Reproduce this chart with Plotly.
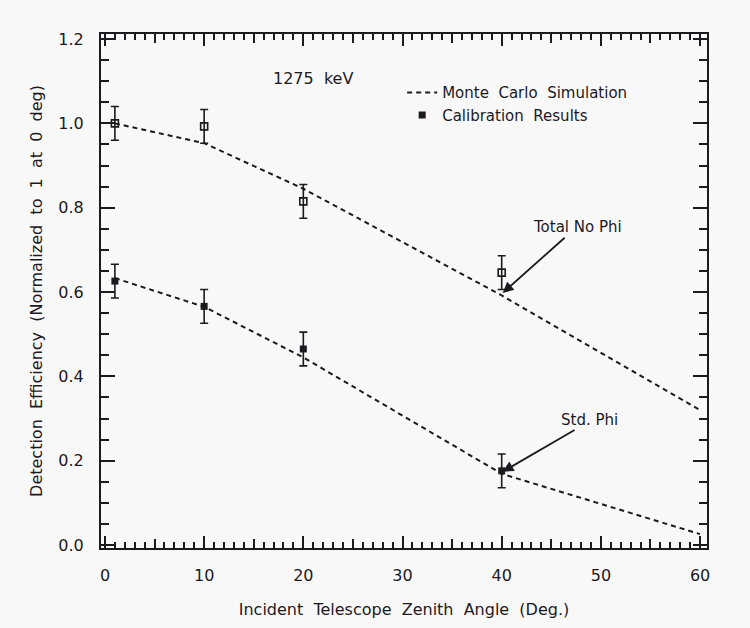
import plotly.graph_objects as go

# ---- data ----
angles_cal = [1, 10, 20, 40]
total_no_phi = [1.00, 0.993, 0.815, 0.646]
total_no_phi_err = [0.04, 0.04, 0.04, 0.04]
std_phi = [0.626, 0.566, 0.465, 0.176]
std_phi_err = [0.04, 0.04, 0.04, 0.04]

angles_mc = [1, 10, 20, 40, 60]
mc_total = [1.00, 0.953, 0.845, 0.592, 0.320]
mc_std = [0.633, 0.565, 0.445, 0.169, 0.026]

x_ticks = [0, 10, 20, 30, 40, 50, 60]
x_mid_ticks = [5, 15, 25, 35, 45, 55]

INK = "#1c1a1e"
FONT = "DejaVu Sans, Liberation Sans, Arial, sans-serif"
DASH = "5px,4px"
SP = "\u00a0 "  # wide word gap

fig = go.Figure()

fig.add_trace(go.Scatter(
    x=angles_mc, y=mc_total, mode="lines", name=f"Monte{SP}Carlo{SP}Simulation",
    line=dict(color=INK, width=2, dash=DASH), legendgroup="mc", showlegend=True))
fig.add_trace(go.Scatter(
    x=angles_mc, y=mc_std, mode="lines", name="Monte Carlo Simulation",
    line=dict(color=INK, width=2, dash=DASH), legendgroup="mc", showlegend=False))

fig.add_trace(go.Scatter(
    x=angles_cal, y=total_no_phi, mode="markers", name="Total No Phi",
    marker=dict(symbol="square-open", size=7, color=INK, line=dict(width=1.6, color=INK)),
    error_y=dict(type="data", array=total_no_phi_err, color=INK, thickness=1.6, width=4),
    showlegend=False))
fig.add_trace(go.Scatter(
    x=angles_cal, y=std_phi, mode="markers", name=f"Calibration{SP}Results",
    marker=dict(symbol="square", size=7, color=INK),
    error_y=dict(type="data", array=std_phi_err, color=INK, thickness=1.6, width=4),
    showlegend=True))

# invisible trace to activate the overlay axis for medium ticks
fig.add_trace(go.Scatter(x=[0], y=[0], xaxis="x2", mode="markers",
                         marker=dict(opacity=0), showlegend=False, hoverinfo="skip"))

axis_font = dict(family=FONT, size=16, color=INK)

fig.update_layout(
    width=750, height=628,
    margin=dict(l=101, r=43, t=34, b=76),
    paper_bgcolor="#f9f8f9", plot_bgcolor="#f9f8f9",
    font=dict(family=FONT, color=INK, size=15),
    showlegend=True,
    legend=dict(x=0.497, y=0.918, xanchor="left", yanchor="top",
                bgcolor="rgba(0,0,0,0)", font=dict(size=15, family=FONT, color=INK),
                tracegroupgap=0, itemwidth=30),
    xaxis=dict(range=[-0.4, 60.7], tickvals=x_ticks, ticks="inside", ticklen=12,
               tickwidth=2, tickcolor=INK, showline=True, linewidth=2, linecolor=INK,
               mirror="ticks", showgrid=False, zeroline=False, tickfont=axis_font,
               ticklabelstandoff=12,
               minor=dict(dtick=1, tick0=0, ticks="inside", ticklen=6, tickwidth=2,
                          tickcolor=INK, showgrid=False),
               title=dict(text=f"Incident{SP}Telescope{SP}Zenith{SP}Angle{SP}(Deg.)",
                          font=dict(size=16, family=FONT, color=INK), standoff=20)),
    xaxis2=dict(overlaying="x", matches="x", side="bottom", tickvals=x_mid_ticks,
                ticks="inside", ticklen=9, tickwidth=2, tickcolor=INK,
                showticklabels=False, mirror="ticks", showline=False,
                showgrid=False, zeroline=False),
    yaxis=dict(range=[-0.007, 1.212], dtick=0.2, tick0=0, tickformat=".1f",
               ticks="inside", ticklen=14, tickwidth=2, tickcolor=INK,
               showline=True, linewidth=2, linecolor=INK, mirror="ticks",
               showgrid=False, zeroline=False, tickfont=axis_font,
               ticklabelstandoff=12,
               minor=dict(dtick=0.05, tick0=0, ticks="inside", ticklen=8, tickwidth=2,
                          tickcolor=INK, showgrid=False),
               title=dict(text=f"Detection{SP}Efficiency{SP}(Normalized{SP}to{SP}1{SP}at{SP}0{SP}deg)",
                          font=dict(size=16, family=FONT, color=INK), standoff=12)),
)

fig.add_annotation(x=21.0, y=1.106, text=f"1275{SP}keV", showarrow=False,
                   font=dict(size=16, family=FONT, color=INK))
fig.add_annotation(x=47.6, y=0.755, text="Total No Phi", showarrow=False,
                   font=dict(size=15, family=FONT, color=INK))
fig.add_annotation(x=48.9, y=0.296, text="Std. Phi", showarrow=False,
                   font=dict(size=15, family=FONT, color=INK))
fig.add_annotation(x=40.1, y=0.598, ax=46.5, ay=0.732, axref="x", ayref="y",
                   text="", showarrow=True, arrowhead=2, arrowsize=1.2,
                   arrowwidth=1.8, arrowcolor=INK)
fig.add_annotation(x=40.1, y=0.174, ax=47.5, ay=0.275, axref="x", ayref="y",
                   text="", showarrow=True, arrowhead=2, arrowsize=1.2,
                   arrowwidth=1.8, arrowcolor=INK)

fig.write_html("out.html")
